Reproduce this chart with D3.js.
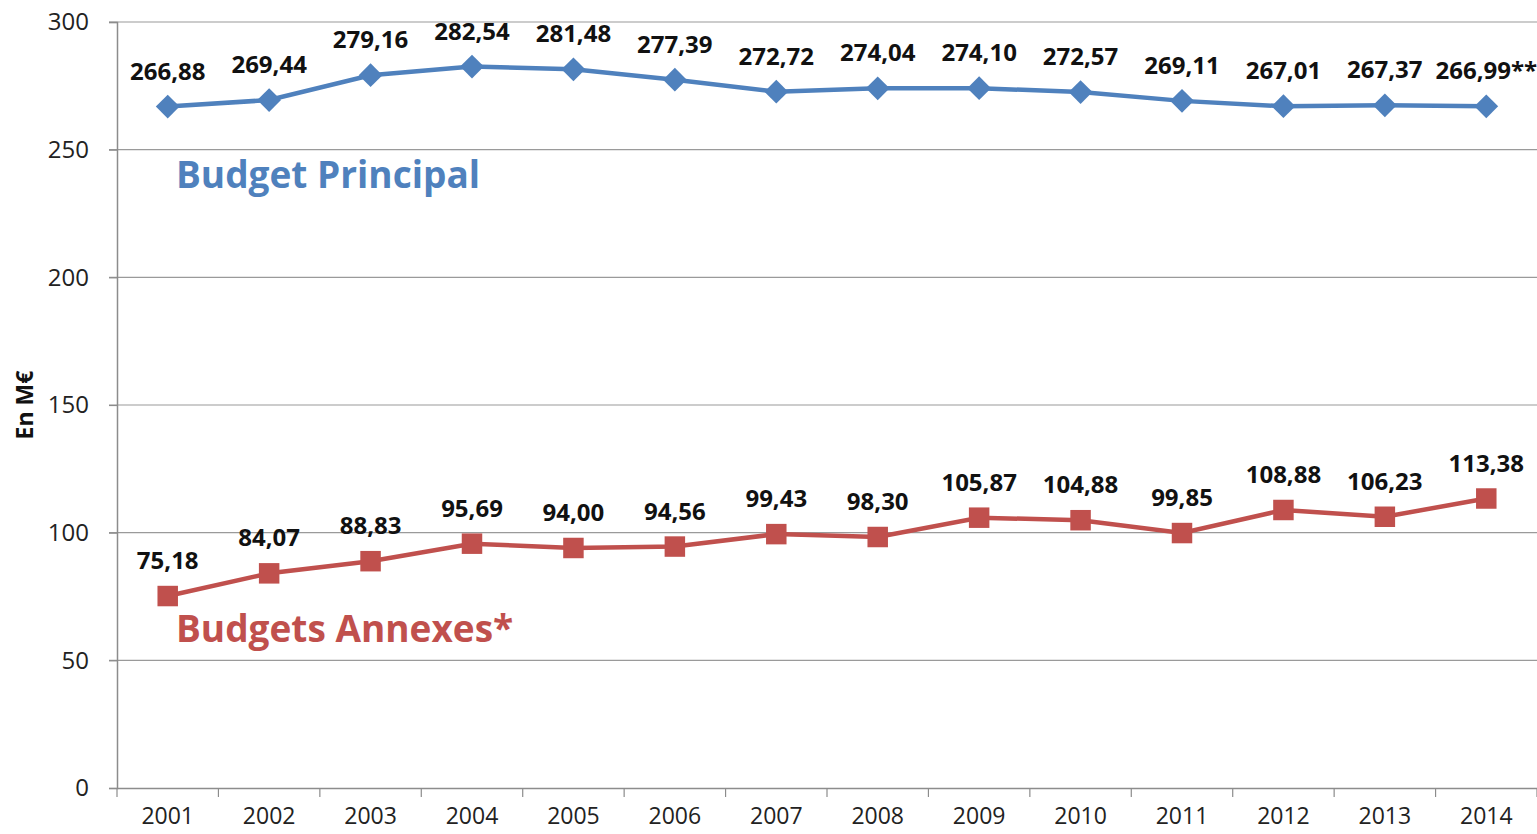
<!DOCTYPE html>
<html>
<head>
<meta charset="utf-8">
<script src="https://cdn.jsdelivr.net/npm/d3@7"></script>
<style>
  body { margin: 0; background: #fff; }
  svg { display: block; font-family: "Open Sans", sans-serif; }
</style>
</head>
<body>
<div id="chart"></div>
<script>
// données
const years = ["2001", "2002", "2003", "2004", "2005", "2006", "2007", "2008", "2009", "2010", "2011", "2012", "2013", "2014"];
const budgetPrincipal = [266.88, 269.44, 279.16, 282.54, 281.48, 277.39, 272.72, 274.04, 274.10, 272.57, 269.11, 267.01, 267.37, 266.99];
const budgetsAnnexes = [75.18, 84.07, 88.83, 95.69, 94.00, 94.56, 99.43, 98.30, 105.87, 104.88, 99.85, 108.88, 106.23, 113.38];
const yTicks = [0, 50, 100, 150, 200, 250, 300];

const width = 1537, height = 834;
const margin = { top: 22, right: 0, bottom: 46, left: 117 };

const svg = d3.select("#chart").append("svg")
    .attr("width", width)
    .attr("height", height);

const x = d3.scaleBand()
    .domain(years)
    .range([margin.left, width - margin.right]);

const y = d3.scaleLinear()
    .domain([0, 300])
    .range([height - margin.bottom, margin.top]);

const fr = d3.formatLocale({ decimal: ",", thousands: " ", grouping: [3], currency: ["", " €"] });
const fmt = fr.format(".2f");

// grille horizontale
svg.append("g")
    .selectAll("line")
    .data(yTicks.filter(d => d > 0))
    .join("line")
    .attr("x1", margin.left - 8)
    .attr("x2", width)
    .attr("y1", d => y(d))
    .attr("y2", d => y(d))
    .attr("stroke", "#9a9a9a")
    .attr("stroke-width", 1.2);

// axe Y
const yAxis = svg.append("g")
    .attr("transform", `translate(${margin.left},0)`)
    .call(d3.axisLeft(y).tickValues(yTicks).tickSize(8).tickPadding(20));
yAxis.select(".domain").attr("stroke", "#8c8c8c").attr("stroke-width", 1.5);
yAxis.selectAll(".tick line").attr("stroke", "#8c8c8c").attr("stroke-width", 1.2);
yAxis.selectAll(".tick text")
    .attr("font-size", 24)
    .attr("fill", "#222")
    .attr("font-family", "'Open Sans', sans-serif");

// axe X
const xAxis = svg.append("g")
    .attr("transform", `translate(0,${height - margin.bottom})`)
    .call(d3.axisBottom(x).tickSize(0).tickPadding(20));
xAxis.select(".domain").attr("stroke", "#8c8c8c").attr("stroke-width", 1.5);
xAxis.selectAll(".tick text")
    .attr("font-size", 23)
    .attr("fill", "#222")
    .attr("font-family", "'Open Sans', sans-serif");
// petites graduations entre les années
xAxis.append("g")
    .selectAll("line")
    .data(years.concat(["end"]))
    .join("line")
    .attr("x1", (d, i) => margin.left + i * x.bandwidth())
    .attr("x2", (d, i) => margin.left + i * x.bandwidth())
    .attr("y1", 0)
    .attr("y2", 9)
    .attr("stroke", "#8c8c8c")
    .attr("stroke-width", 1.2);

// titre axe Y
svg.append("text")
    .attr("transform", `translate(33,${y(150)}) rotate(-90)`)
    .attr("text-anchor", "middle")
    .attr("font-size", 23)
    .attr("font-weight", "bold")
    .attr("fill", "#111")
    .text("En M€");

const cx = d => x(d) + x.bandwidth() / 2;

function drawSeries(values, color, symbolType, symbolSize, lastSuffix) {
    const pts = years.map((yr, i) => ({ yr, v: values[i], i }));
    const line = d3.line().x(d => cx(d.yr)).y(d => y(d.v));
    svg.append("path")
        .datum(pts)
        .attr("d", line)
        .attr("fill", "none")
        .attr("stroke", color)
        .attr("stroke-width", 4.5);

    svg.append("g")
        .selectAll("path")
        .data(pts)
        .join("path")
        .attr("transform", d => `translate(${cx(d.yr)},${y(d.v)})`)
        .attr("d", d3.symbol().type(symbolType).size(symbolSize))
        .attr("fill", color);

    svg.append("g")
        .selectAll("text")
        .data(pts)
        .join("text")
        .attr("x", d => cx(d.yr))
        .attr("y", d => y(d.v) - 27)
        .attr("text-anchor", "middle")
        .attr("font-size", 24)
        .attr("font-weight", "bold")
        .attr("fill", "#111")
        .text(d => fmt(d.v) + (d.i === years.length - 1 ? lastSuffix : ""));
}

drawSeries(budgetPrincipal, "#4f81bd", d3.symbolDiamond2, 360, "**");
drawSeries(budgetsAnnexes, "#c0504d", d3.symbolSquare, 420, "");

// noms des séries
svg.append("text")
    .attr("x", 176)
    .attr("y", 188)
    .attr("font-size", 37)
    .attr("font-weight", "bold")
    .attr("fill", "#4f81bd")
    .text("Budget Principal");

svg.append("text")
    .attr("x", 176)
    .attr("y", 642)
    .attr("font-size", 37)
    .attr("font-weight", "bold")
    .attr("fill", "#c0504d")
    .text("Budgets Annexes*");
</script>
</body>
</html>
